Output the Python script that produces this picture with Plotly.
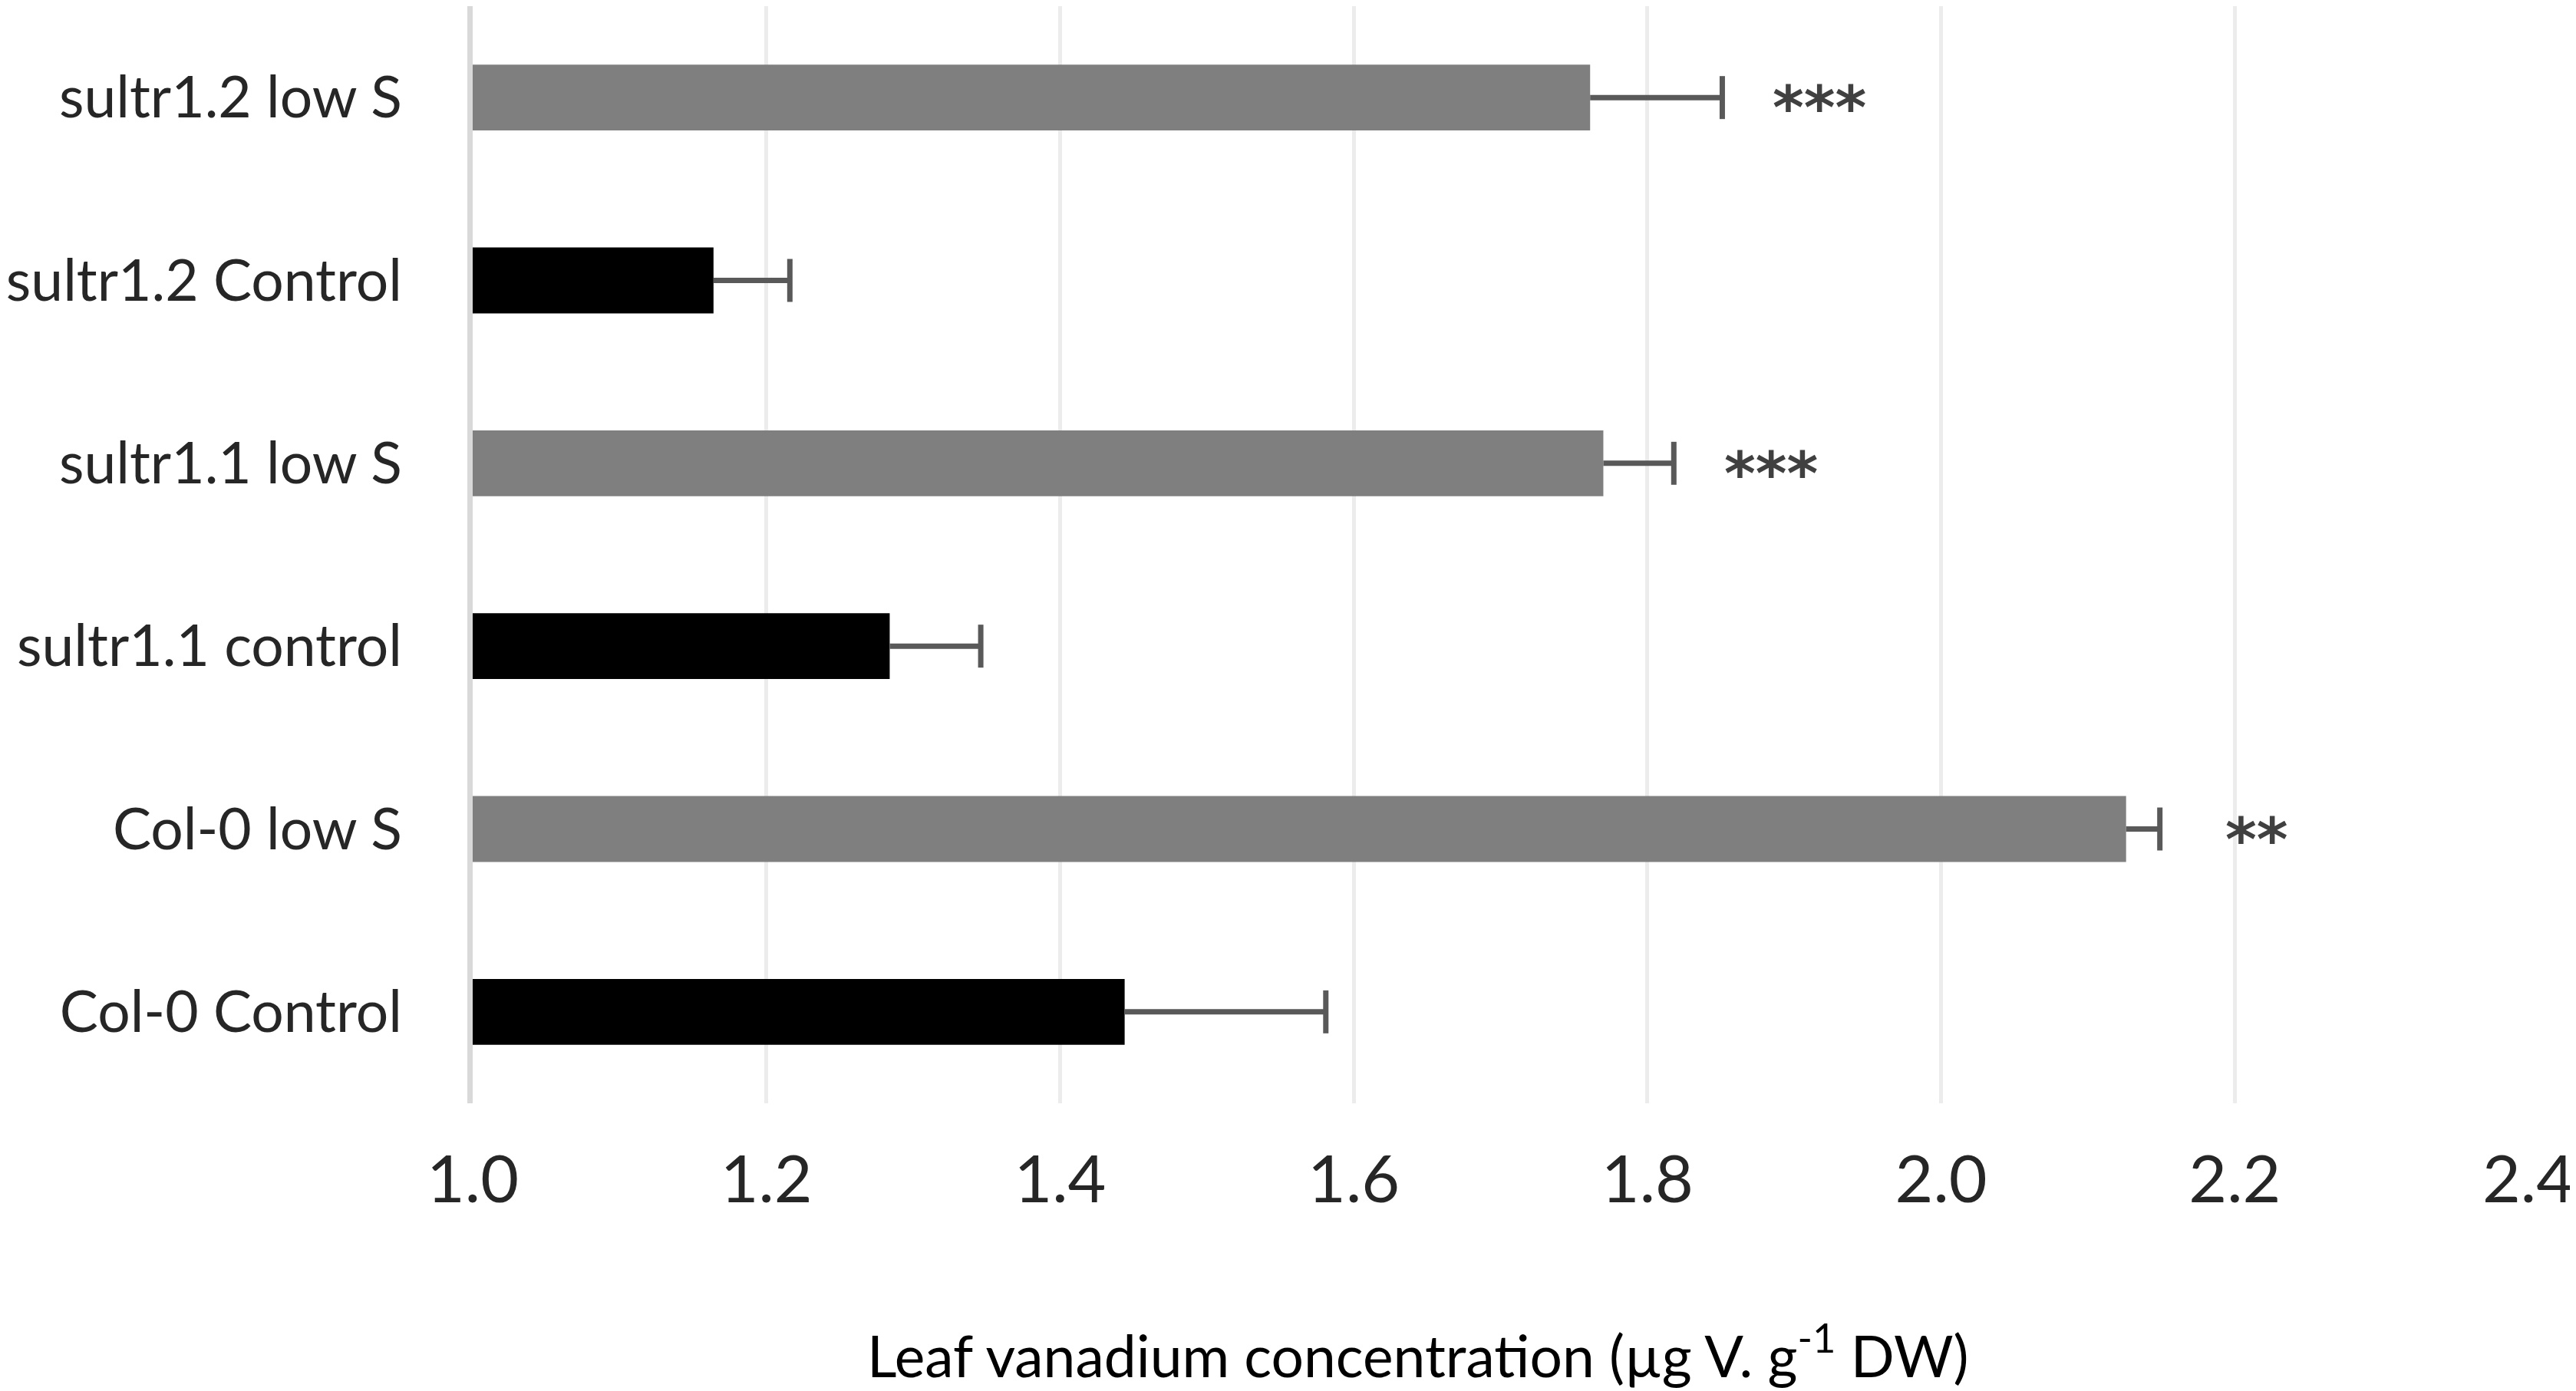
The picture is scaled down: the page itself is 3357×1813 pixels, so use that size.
import plotly.graph_objects as go

# categories listed bottom -> top (plotly draws first category at the bottom)
categories = ["Col-0 Control", "Col-0 low S", "sultr1.1 control",
              "sultr1.1 low S", "sultr1.2 Control", "sultr1.2 low S"]
means = [1.444, 2.126, 1.284, 1.770, 1.164, 1.761]
errors = [0.137, 0.023, 0.062, 0.048, 0.052, 0.090]
signif = ["", "**", "", "***", "", "***"]
treatment = ["control", "low", "control", "low", "control", "low"]

x_ticks = [1.0, 1.2, 1.4, 1.6, 1.8, 2.0, 2.2, 2.4]

bar_colors = {"control": "#000000", "low": "#7f7f7f"}

fig = go.Figure()

fig.add_trace(go.Bar(
    y=categories, x=means, orientation="h",
    marker=dict(color=[bar_colors[t] for t in treatment], line=dict(width=0)),
    width=0.36, showlegend=False, hoverinfo="x+y",
))

# one-sided error bars: stem from bar end, cap at the top end
ex, ey = [], []
for c, m, e in zip(categories, means, errors):
    ex += [m, m + e, None]
    ey += [c, c, None]
fig.add_trace(go.Scatter(x=ex, y=ey, mode="lines",
                         line=dict(color="#595959", width=7),
                         showlegend=False, hoverinfo="skip"))
fig.add_trace(go.Scatter(
    x=[m + e for m, e in zip(means, errors)], y=categories, mode="markers",
    marker=dict(symbol="line-ns", size=40, line=dict(color="#595959", width=7)),
    showlegend=False, hoverinfo="skip"))

for c, m, e, s in zip(categories, means, errors, signif):
    if s:
        fig.add_annotation(x=m + e + 0.066, y=c, text="<b>" + s + "</b>",
                           showarrow=False,
                           xanchor="center", yanchor="middle", yshift=-14,
                           font=dict(family="DejaVu Sans", size=78,
                                     color="#404040"))

fig.add_annotation(
    x=0.46, y=-0.226, xref="paper", yref="paper",
    text="Leaf vanadium concentration (µg V. g<sup>-1</sup> DW)",
    showarrow=False, xanchor="center", yanchor="middle",
    font=dict(family="Lato", size=75, color="#000000"))

fig.update_xaxes(range=[1.0, 2.4], tickvals=x_ticks,
                 ticktext=[f"{v:.1f}" for v in x_ticks],
                 showgrid=True, gridcolor="#ececec", gridwidth=5,
                 zeroline=False, showline=False, ticks="",
                 ticklabelstandoff=42,
                 tickfont=dict(family="Lato", size=86, color="#262626"))
fig.update_yaxes(categoryorder="array", categoryarray=categories,
                 showgrid=False, zeroline=False,
                 showline=True, linecolor="#d9d9d9", linewidth=7,
                 ticks="", ticklabelstandoff=70,
                 tickfont=dict(family="Lato", size=75, color="#262626"))

fig.update_layout(width=3357, height=1813,
                  margin=dict(l=595, r=70, t=0, b=383),
                  plot_bgcolor="white", paper_bgcolor="white",
                  bargap=0.6)

fig.write_html("out.html")
